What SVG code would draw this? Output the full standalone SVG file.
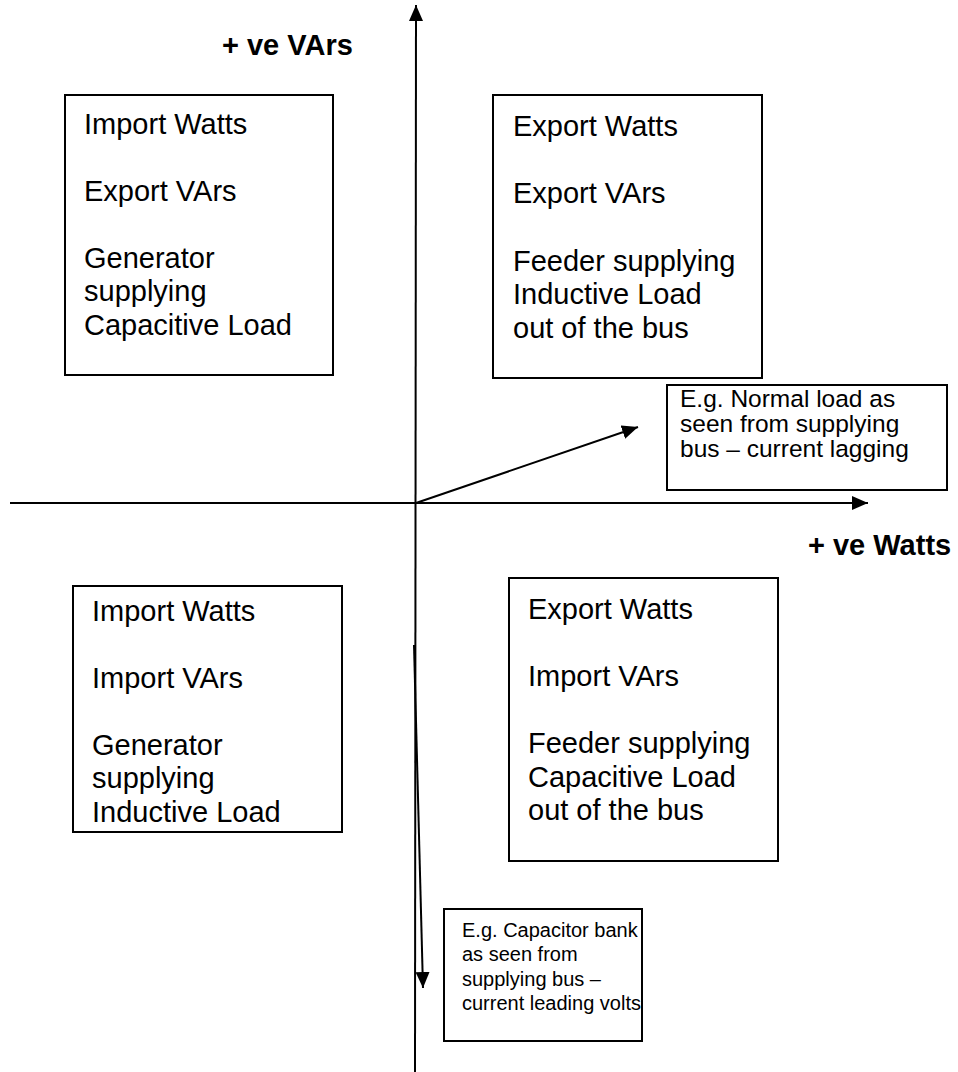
<svg xmlns="http://www.w3.org/2000/svg" width="958" height="1072" viewBox="0 0 958 1072">
<defs>
<marker id="ahL" viewBox="0 0 16 16" refX="16" refY="8" markerWidth="16" markerHeight="16" markerUnits="userSpaceOnUse" orient="auto">
<path d="M0,1 L16,8 L0,15 z" fill="#000"/>
</marker>
<style>
.box{fill:#fff;stroke:#000;stroke-width:2}
.t{font-family:"Liberation Sans",Arial,sans-serif;font-size:29px;fill:#000}
.m{font-family:"Liberation Sans",Arial,sans-serif;font-size:24.5px;fill:#000}
.s{font-family:"Liberation Sans",Arial,sans-serif;font-size:20px;fill:#000}
.b{font-family:"Liberation Sans",Arial,sans-serif;font-size:29px;font-weight:bold;fill:#000}
.ln{stroke:#000;stroke-width:2;fill:none}
</style>
</defs>
<g id="connectors">
<line class="ln" x1="415" y1="1072" x2="416" y2="5" marker-end="url(#ahL)"/>
<line class="ln" x1="10" y1="503" x2="868" y2="503" marker-end="url(#ahL)"/>
<line class="ln" x1="416" y1="503" x2="638" y2="427" marker-end="url(#ahL)"/>
<line class="ln" x1="414" y1="645" x2="423" y2="988" marker-end="url(#ahL)"/>
</g>
<g id="label-vars"><text class="b" x="222" y="55">+ ve VArs</text></g>
<g id="label-watts"><text class="b" x="808" y="555">+ ve Watts</text></g>
<g id="q2">
<rect class="box" x="65" y="95" width="268" height="280"/>
<text class="t" x="84" y="134">Import Watts</text>
<text class="t" x="84" y="201">Export VArs</text>
<text class="t" x="84" y="268">Generator</text>
<text class="t" x="84" y="301">supplying</text>
<text class="t" x="84" y="335">Capacitive Load</text>
</g>
<g id="q1">
<rect class="box" x="493" y="95" width="269" height="283"/>
<text class="t" x="513" y="136">Export Watts</text>
<text class="t" x="513" y="203">Export VArs</text>
<text class="t" x="513" y="271">Feeder supplying</text>
<text class="t" x="513" y="304">Inductive Load</text>
<text class="t" x="513" y="338">out of the bus</text>
</g>
<g id="note-normal">
<rect class="box" x="667" y="385" width="280" height="105"/>
<text class="m" x="680" y="407">E.g. Normal load as</text>
<text class="m" x="680" y="432">seen from supplying</text>
<text class="m" x="680" y="457">bus – current lagging</text>
</g>
<g id="q3">
<rect class="box" x="73" y="586" width="269" height="246"/>
<text class="t" x="92" y="621">Import Watts</text>
<text class="t" x="92" y="688">Import VArs</text>
<text class="t" x="92" y="755">Generator</text>
<text class="t" x="92" y="788">supplying</text>
<text class="t" x="92" y="822">Inductive Load</text>
</g>
<g id="q4">
<rect class="box" x="509" y="578" width="269" height="283"/>
<text class="t" x="528" y="619">Export Watts</text>
<text class="t" x="528" y="686">Import VArs</text>
<text class="t" x="528" y="753">Feeder supplying</text>
<text class="t" x="528" y="787">Capacitive Load</text>
<text class="t" x="528" y="820">out of the bus</text>
</g>
<g id="note-capacitor">
<rect class="box" x="444" y="909" width="198" height="132"/>
<text class="s" x="462" y="937">E.g. Capacitor bank</text>
<text class="s" x="462" y="961">as seen from</text>
<text class="s" x="462" y="986">supplying bus –</text>
<text class="s" x="462" y="1010">current leading volts</text>
</g>
</svg>
